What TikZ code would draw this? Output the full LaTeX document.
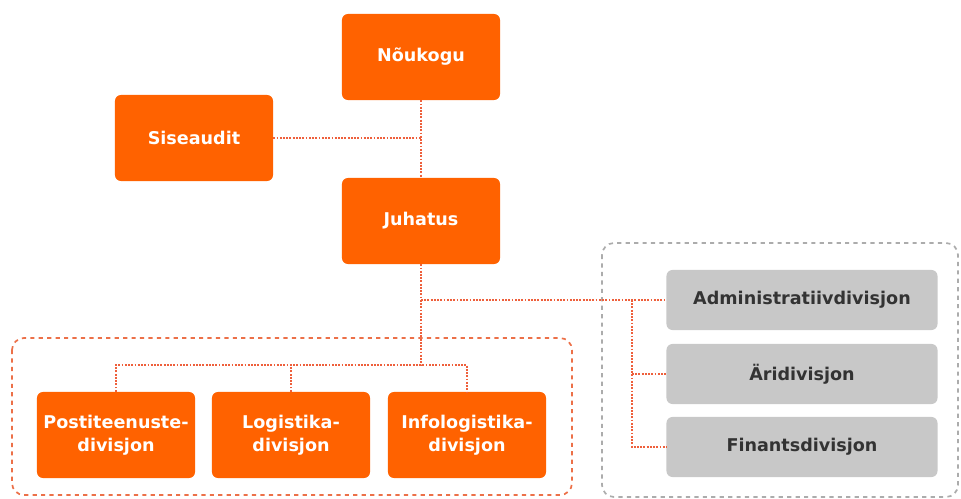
\documentclass[tikz,border=0pt]{standalone}
\usepackage{fontspec}
\setmainfont{DejaVu Sans}
\definecolor{unitorange}{RGB}{255,98,0}
\definecolor{unitgray}{RGB}{200,200,200}
\definecolor{linkred}{RGB}{238,96,60}
\definecolor{frameorange}{RGB}{236,112,72}
\definecolor{framegray}{RGB}{172,172,172}
\begin{document}
\begin{tikzpicture}[
        x = 0.025cm, y = -0.025cm,
        font = \bfseries\fontsize{12.5}{16}\selectfont,
        unit/.style = {
          rectangle, rounded corners = 0.15cm, fill = unitorange, text = white,
          minimum width = 3.95cm, minimum height = 2.15cm, align = center,
        },
        grayunit/.style = {
          rectangle, rounded corners = 0.15cm, fill = unitgray, text = black!80,
          minimum width = 6.775cm, minimum height = 1.5cm,
        },
        link/.style = {linkred, line width = 1.3pt, densely dotted},
        frame/.style = {line width = 1.2pt, dash pattern = on 3pt off 3pt, rounded corners = 0.3cm},
      ]

      \useasboundingbox (0,0) rectangle (961,499);

      % dashed group frames
      \draw[frame, frameorange] (12,338) rectangle (572,495);
      \draw[frame, framegray] (602,243) rectangle (958,497);

      \node[unit] (noukogu) at (421,57) {Nõukogu};
      \node[unit] (siseaudit) at (194,138) {Siseaudit};
      \node[unit] (juhatus) at (421,221) {Juhatus};

      \node[unit] (posti) at (116,435) {Postiteenuste-\\divisjon};
      \node[unit] (logi) at (291,435) {Logistika-\\divisjon};
      \node[unit] (info) at (467,435) {Infologistika-\\divisjon};

      \node[grayunit] (admin) at (802,300) {Administratiivdivisjon};
      \node[grayunit] (ari) at (802,374) {Äridivisjon};
      \node[grayunit] (finants) at (802,447) {Finantsdivisjon};

      \coordinate (bus) at (421,365);
      \coordinate (side) at (421,300);
      \coordinate (rail) at (632,300);

      \draw[link] (noukogu) -- (juhatus);
      \draw[link] (siseaudit.east) -- (siseaudit.east -| noukogu.south);
      \draw[link] (juhatus) -- (bus);
      \draw[link] (posti.north) |- (bus) -| (info.north);
      \draw[link] (logi.north) -- (logi.north |- bus);

      \draw[link] (side) -- (admin.west);
      \draw[link] (rail) |- (finants.west);
      \draw[link] (rail |- ari) -- (ari.west);
    \end{tikzpicture}
\end{document}
